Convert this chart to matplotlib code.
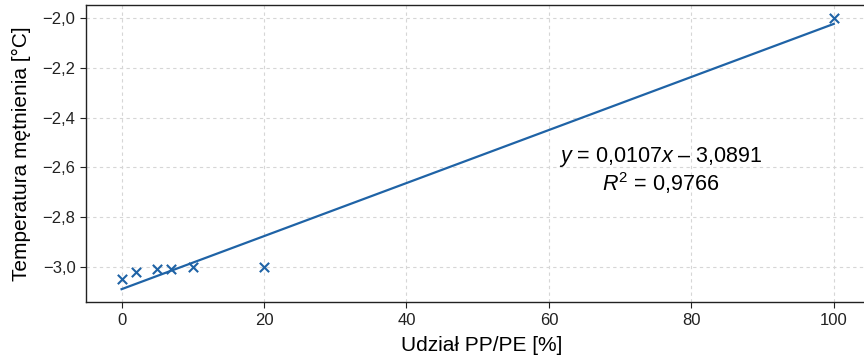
import numpy as np
import matplotlib
matplotlib.use("Agg")
import matplotlib.pyplot as plt
from matplotlib.ticker import FuncFormatter

plt.rcParams['font.family'] = ['Liberation Sans', 'DejaVu Sans']
plt.rcParams['mathtext.fontset'] = 'custom'
plt.rcParams['mathtext.rm'] = 'Liberation Sans'
plt.rcParams['mathtext.it'] = 'Liberation Sans:italic'

# udział PP/PE [%] i temperatura mętnienia [°C]
share = [0, 2, 5, 7, 10, 20, 100]
cloud_point = [-3.05, -3.02, -3.01, -3.01, -3.00, -3.00, -2.00]
x_ticks = [0, 20, 40, 60, 80, 100]
y_ticks = [-3.0, -2.8, -2.6, -2.4, -2.2, -2.0]

blue = '#1f63a6'


def pl_fmt(v, pos=None, nd=1):
    s = f"{abs(v):.{nd}f}".replace('.', ',')
    return ('\u2212' + s) if v < 0 else s


x = np.array(share, dtype=float)
y = np.array(cloud_point, dtype=float)
a, b = np.polyfit(x, y, 1)
r2 = np.corrcoef(x, y)[0, 1] ** 2

fig = plt.figure(figsize=(8.64, 3.55), dpi=100)
# prawa krawędź osi wychodzi poza obraz
ax = fig.add_axes([0.0995, 0.149, 0.915, 0.837])

ax.grid(True, color='#d6d6d6', linestyle=(0, (3, 3)), linewidth=0.8)
ax.set_axisbelow(True)

ax.scatter(x, y, marker='x', s=45, color=blue, linewidths=1.5, zorder=3)
xf = np.array([x.min(), x.max()])
ax.plot(xf, a * xf + b, color=blue, linewidth=1.6, zorder=2)

ax.set_xlim(-5, 106)
ax.set_ylim(-3.141, -1.948)
ax.set_xticks(x_ticks)
ax.set_yticks(y_ticks)
ax.xaxis.set_major_formatter(FuncFormatter(lambda v, p: f"{v:.0f}"))
ax.yaxis.set_major_formatter(FuncFormatter(pl_fmt))
ax.tick_params(labelsize=12, length=4, width=0.8, colors='#222222')
for sp in ax.spines.values():
    sp.set_color('#222222')
    sp.set_linewidth(1.0)

ax.set_xlabel('Udział PP/PE [%]', fontsize=15, labelpad=6)
ax.set_ylabel('Temperatura mętnienia [°C]', fontsize=15, labelpad=8)

eq = f"$y$ = {pl_fmt(a, nd=4)}$x$ \u2013 {pl_fmt(-b, nd=4)}"
ax.text(75.7, -2.557, eq, fontsize=15.5, ha='center', va='center')
ax.text(75.7, -2.662, f"$R^2$ = {pl_fmt(r2, nd=4)}", fontsize=15.5,
        ha='center', va='center')

fig.savefig('out.png', dpi=100)
